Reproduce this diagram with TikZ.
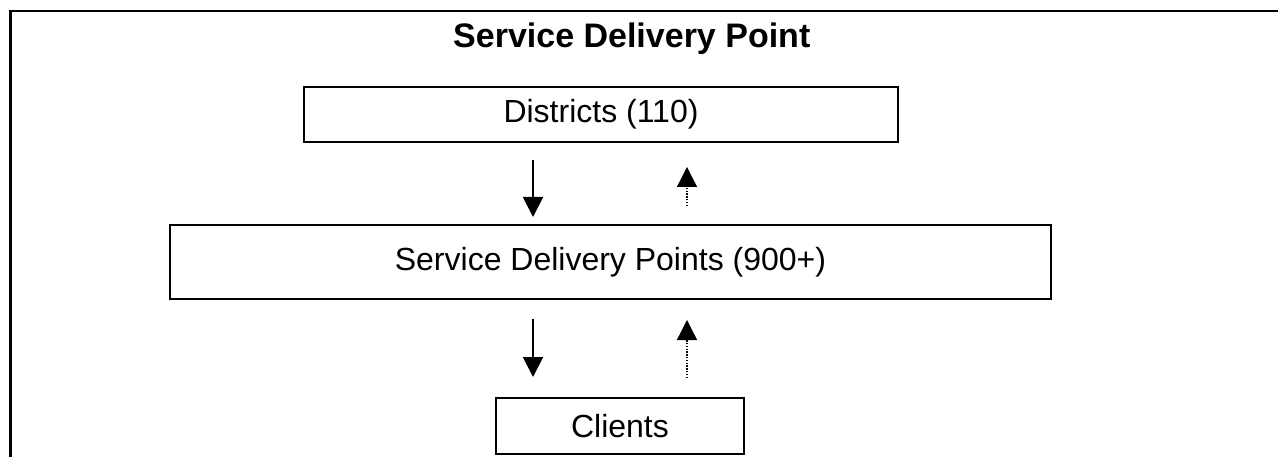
\documentclass[tikz,border=0pt]{standalone}
\usepackage{fontspec}
\setmainfont{Liberation Sans}
\usetikzlibrary{arrows.meta}
\begin{document}
\begin{tikzpicture}[x=1pt,y=-1pt,
  level/.style={draw=black,line width=2pt,inner sep=0pt,
    font=\fontsize{32}{38}\selectfont},
  flowdown/.style={line width=2pt,-{Triangle[length=20pt,width=20pt]}},
  flowup/.style={line width=1.3pt,dash pattern=on 1.4pt off 1.4pt,
    -{Triangle[length=20pt,width=20pt]}},
  heading/.style={font=\fontsize{34}{40}\selectfont\bfseries,inner sep=0pt}]
\useasboundingbox (0,0) rectangle (1278,457);
% frame
\draw[line width=2.5pt,line join=miter] (10.3,460) -- (10.3,11) -- (1280,11);
% title
\node[heading,anchor=base west] (title) at (453,48) {Service Delivery Point};
% levels
\node[level,minimum width=594pt,minimum height=55pt] (dist) at (601,114.5) {Districts (110)};
\node[level,minimum width=881pt,minimum height=74pt] (sdp) at (610.5,262) {Service Delivery Points (900+)};
\node[level,minimum width=248pt,minimum height=56pt] (cli) at (620,426) {Clients};
% columns of the arrows
\coordinate (down) at (533,0);
\coordinate (up) at (687,0);
% arrows
\draw[flowdown,shorten <=17pt,shorten >=7pt] (dist.south -| down) -- (sdp.north -| down);
\draw[flowup,shorten <=18pt,shorten >=24pt] (sdp.north -| up) -- (dist.south -| up);
\draw[flowdown,shorten <=19pt,shorten >=20pt] (sdp.south -| down) -- (cli.north -| down);
\draw[flowup,shorten <=19pt,shorten >=20pt] (cli.north -| up) -- (sdp.south -| up);
\end{tikzpicture}
\end{document}
